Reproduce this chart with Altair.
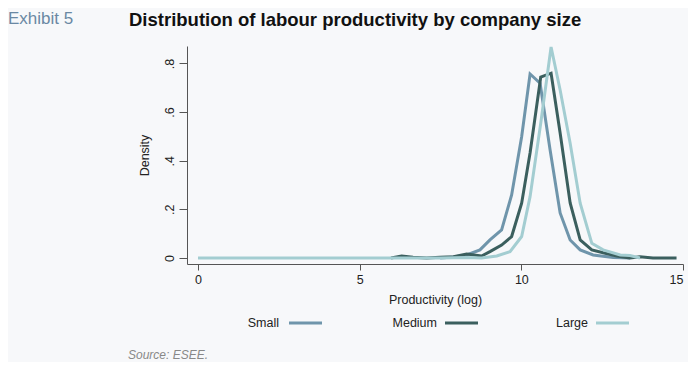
import altair as alt
import pandas as pd

small_x = [7.49, 7.90, 8.31, 8.72, 9.03, 9.39, 9.70, 10.01, 10.27, 10.58, 10.89, 11.20, 11.51, 11.82, 12.22, 12.84, 13.36]
small_y = [0.000, 0.004, 0.012, 0.033, 0.074, 0.115, 0.259, 0.499, 0.757, 0.719, 0.444, 0.185, 0.074, 0.033, 0.012, 0.002, 0.000]

medium_x = [5.97, 6.30, 6.65, 7.07, 7.49, 7.90, 8.31, 8.77, 9.03, 9.39, 9.70, 10.01, 10.27, 10.60, 10.92, 11.20, 11.51, 11.82, 12.18, 12.53, 12.95, 13.36, 13.67, 14.07, 14.80]
medium_y = [0.000, 0.008, 0.003, 0.000, 0.003, 0.005, 0.016, 0.008, 0.026, 0.053, 0.088, 0.225, 0.432, 0.744, 0.760, 0.514, 0.226, 0.074, 0.033, 0.021, 0.008, 0.000, 0.005, 0.000, 0.000]

large_x = [0.0, 2.0, 4.0, 6.0, 7.49, 8.31, 8.77, 9.24, 9.65, 10.01, 10.27, 10.60, 10.92, 11.20, 11.51, 11.82, 12.18, 12.53, 13.06, 13.36, 13.67]
large_y = [0.000, 0.000, 0.000, 0.000, 0.000, 0.002, 0.000, 0.008, 0.026, 0.088, 0.252, 0.554, 0.868, 0.691, 0.472, 0.225, 0.060, 0.033, 0.012, 0.010, 0.000]

series = ["Small", "Medium", "Large"]
colors = ["#6f95ab", "#3b5f5e", "#a3cdd1"]
x_ticks = [0, 5, 10, 15]
y_ticks = [0, 0.2, 0.4, 0.6, 0.8]

rows = []
for name, xs, ys in [("Small", small_x, small_y), ("Medium", medium_x, medium_y), ("Large", large_x, large_y)]:
    for i, (a, b) in enumerate(zip(xs, ys)):
        rows.append({"series": name, "x": a, "y": b, "order": i})
df = pd.DataFrame(rows)

FONT = "Liberation Sans"
color_scale = alt.Scale(domain=series, range=colors)

lines = alt.Chart(df).mark_line(strokeWidth=3, strokeJoin="miter").encode(
    x=alt.X("x:Q", scale=alt.Scale(domain=[-0.34, 15.0], nice=False, zero=False),
            axis=alt.Axis(values=x_ticks, title="Productivity (log)", grid=False,
                          tickSize=6, labelPadding=3, titlePadding=8,
                          labelFontSize=12.5, titleFontSize=12.5, titleFontWeight="normal",
                          domainColor="#555", tickColor="#555", labelColor="#222", titleColor="#222",
                          labelFont=FONT, titleFont=FONT)),
    y=alt.Y("y:Q", scale=alt.Scale(domain=[-0.025, 0.872], nice=False, zero=False),
            axis=alt.Axis(values=y_ticks, title="Density", grid=False,
                          tickSize=8, labelPadding=3, titlePadding=12,
                          labelAngle=270, labelAlign="center", labelBaseline="bottom",
                          labelExpr="datum.value == 0 ? '0' : replace(format(datum.value, '.1f'), '0.', '.')",
                          labelFontSize=12.5, titleFontSize=12.5, titleFontWeight="normal",
                          domainColor="#555", tickColor="#555", labelColor="#222", titleColor="#222",
                          labelFont=FONT, titleFont=FONT)),
    color=alt.Color("series:N", scale=color_scale, legend=None),
    detail="series:N",
    order="order:Q",
)

layers = [lines]

# custom legend: label then line sample
leg_df = pd.DataFrame({"series": series})
label_right = [92, 250, 401]
line_start = [102, 258, 409]
for name, lr, ls in zip(series, label_right, line_start):
    d = leg_df[leg_df.series == name]
    layers.append(alt.Chart(d).mark_text(align="right", baseline="middle", font=FONT, fontSize=12.5, color="#222").encode(
        x=alt.value(lr), y=alt.value(277), text="series:N"))
    layers.append(alt.Chart(d).mark_rule(strokeWidth=3).encode(
        x=alt.value(ls), x2=alt.value(ls + 33), y=alt.value(277),
        color=alt.Color("series:N", scale=color_scale, legend=None)))

text_df = pd.DataFrame({"t": ["Exhibit 5"]})
layers.append(alt.Chart(text_df).mark_text(align="left", baseline="middle", font=FONT, fontSize=17, color="#6a88a3").encode(
    x=alt.value(-179), y=alt.value(-27), text="t:N"))
title_df = pd.DataFrame({"t": ["Distribution of labour productivity by company size"]})
layers.append(alt.Chart(title_df).mark_text(align="left", baseline="middle", font=FONT, fontSize=18.5, fontWeight="bold", color="#111").encode(
    x=alt.value(-58), y=alt.value(-26.5), text="t:N"))
src_df = pd.DataFrame({"t": ["Source: ESEE."]})
layers.append(alt.Chart(src_df).mark_text(align="left", baseline="middle", font=FONT, fontSize=12, fontStyle="italic", color="#888").encode(
    x=alt.value(-59), y=alt.value(309), text="t:N"))

chart = alt.layer(*layers).properties(
    width=496, height=218,
    autosize=alt.AutoSizeParams(type="none"),
    padding={"left": 179, "top": 38, "right": 5, "bottom": 98},
    background="#f7f8fa",
).configure_view(stroke=None)

chart.save("out.html", embed_options={"renderer": "svg", "actions": False})
